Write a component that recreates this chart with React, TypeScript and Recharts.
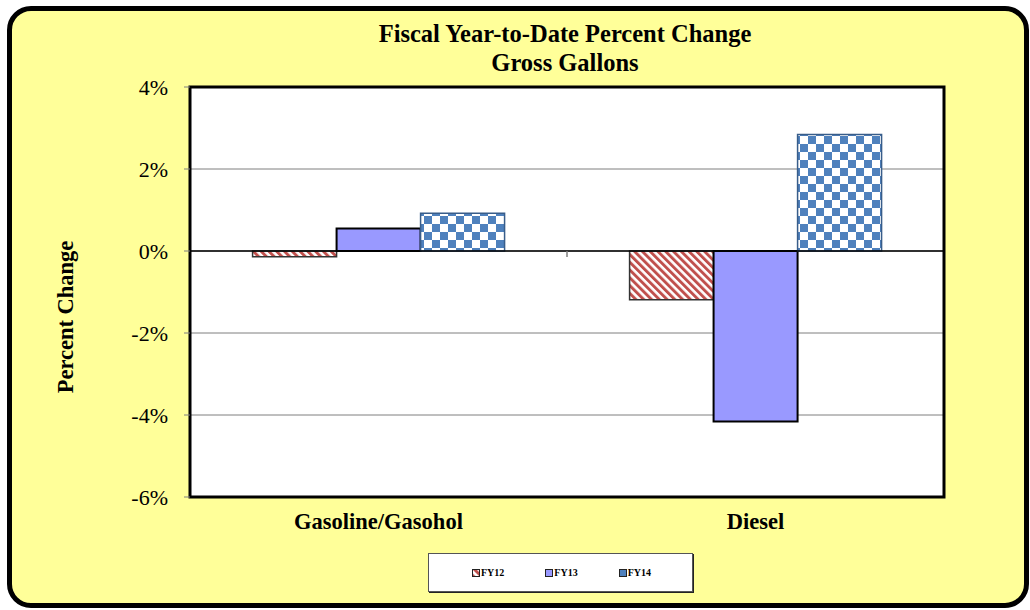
import React from "react"
import { BarChart, Bar, XAxis, YAxis, CartesianGrid, ReferenceLine, ReferenceArea, Legend, Label } from "recharts"

const categories = ["Gasoline/Gasohol", "Diesel"]
const fy12 = [-0.14, -1.19]
const fy13 = [0.55, -4.16]
const fy14 = [0.92, 2.84]
const yTicks = [-6, -4, -2, 0, 2, 4]
const titleLines = ["Fiscal Year-to-Date Percent Change", "Gross Gallons"]
const yLabel = "Percent Change"

const data = categories.map((name, i) => ({ name, FY12: fy12[i], FY13: fy13[i], FY14: fy14[i] }))

const serif = "'Liberation Serif', 'Times New Roman', serif"

function LegendBox({ payload }: any) {
  return (
    <div
      style={{
        width: "100%",
        height: "100%",
        boxSizing: "border-box",
        background: "#fff",
        border: "1px solid #555",
        boxShadow: "1px 1px 0 #222",
        display: "flex",
        alignItems: "center",
        paddingLeft: 43,
        fontFamily: serif,
        fontWeight: "bold",
        fontSize: 10,
      }}
    >
      {(payload || []).map((p: any) => (
        <div key={p.value} style={{ display: "flex", alignItems: "center", width: 76 }}>
          <svg width={8} height={8} style={{ marginRight: 1 }}>
            <rect x={0.5} y={0.5} width={7} height={7} fill={p.color} stroke="#222" strokeWidth={1} />
          </svg>
          <span>{p.value}</span>
        </div>
      ))}
    </div>
  )
}

export default function App() {
  return (
    <div style={{ position: "absolute", left: 0, top: 0, width: 1030, height: 610, background: "#fff", overflow: "hidden" }}>
      <div
        style={{
          position: "absolute",
          left: 7,
          top: 6,
          width: 1022,
          height: 602,
          boxSizing: "border-box",
          border: "5px solid #000",
          borderRadius: 24,
          background: "#FFFF99",
        }}
      />
      <div
        style={{
          position: "absolute",
          left: 0,
          width: 1030,
          top: 19,
          textAlign: "center",
          fontFamily: serif,
          fontWeight: "bold",
          fontSize: 24.5,
          lineHeight: "29px",
          paddingLeft: 100,
          boxSizing: "border-box",
        }}
      >
        {titleLines.map((t) => (
          <div key={t}>{t}</div>
        ))}
      </div>
      <div style={{ position: "absolute", left: 0, top: 0 }}>
        <BarChart
          width={1030}
          height={610}
          data={data}
          margin={{ top: 87, right: 86, bottom: 83, left: 0 }}
          barCategoryGap="16.6%"
          barGap={0}
        >
          <defs>
            <pattern id="stripes" width={5.5} height={5.5} patternUnits="userSpaceOnUse" patternTransform="rotate(-45)">
              <rect width={5.5} height={5.5} fill="#fff" />
              <rect width={2.9} height={5.5} fill="#C0504D" />
            </pattern>
            <pattern id="checks" width={16} height={16} patternUnits="userSpaceOnUse">
              <rect width={16} height={16} fill="#fff" />
              <rect width={8} height={8} fill="#4F81BD" />
              <rect x={8} y={8} width={8} height={8} fill="#4F81BD" />
            </pattern>
          </defs>
          <CartesianGrid vertical={false} stroke="#7f7f7f" strokeWidth={1} fill="#fff" />
          <XAxis
            dataKey="name"
            axisLine={false}
            tickLine={false}
            tickSize={0}
            tickMargin={16}
            height={30}
            tick={{ fill: "#000", fontFamily: serif, fontWeight: "bold", fontSize: 22.5 }}
          />
          <YAxis
            width={190}
            domain={[-6, 4]}
            ticks={yTicks}
            tickFormatter={(v: number) => `${v}%`}
            axisLine={false}
            tickSize={6}
            tickMargin={16}
            tickLine={{ stroke: "#7f7f7f" }}
            tick={{ fill: "#000", fontFamily: serif, fontSize: 22 }}
          >
            <Label
              content={({ viewBox }: any) => {
                const cx = viewBox.x + 65
                const cy = viewBox.y + viewBox.height / 2 + 25
                return (
                  <text
                    x={cx}
                    y={cy}
                    transform={`rotate(-90 ${cx} ${cy})`}
                    textAnchor="middle"
                    dominantBaseline="central"
                    fontFamily={serif}
                    fontWeight="bold"
                    fontSize={22.5}
                    fill="#000"
                  >
                    {yLabel}
                  </text>
                )
              }}
            />
          </YAxis>
          <ReferenceLine
            y={0}
            stroke="#000"
            strokeWidth={1.5}
            label={({ viewBox }: any) => {
              const mx = viewBox.x + viewBox.width / 2
              return <line x1={mx} x2={mx} y1={viewBox.y} y2={viewBox.y + 6} stroke="#7f7f7f" strokeWidth={1.5} />
            }}
          />
          <Bar dataKey="FY12" fill="url(#stripes)" stroke="#333" strokeWidth={1.5} isAnimationActive={false} />
          <Bar dataKey="FY13" fill="#9999FF" stroke="#000" strokeWidth={2} isAnimationActive={false} />
          <Bar dataKey="FY14" fill="url(#checks)" stroke="#385D8A" strokeWidth={1.5} isAnimationActive={false} />
          <ReferenceArea y1={-6} y2={4} fill="none" stroke="#000" strokeWidth={3} ifOverflow="visible" />
          <Legend
            verticalAlign="middle"
            align="center"
            layout="horizontal"
            content={<LegendBox />}
            wrapperStyle={{ left: 428, top: 553, width: 265, height: 39 }}
          />
        </BarChart>
      </div>
    </div>
  )
}
